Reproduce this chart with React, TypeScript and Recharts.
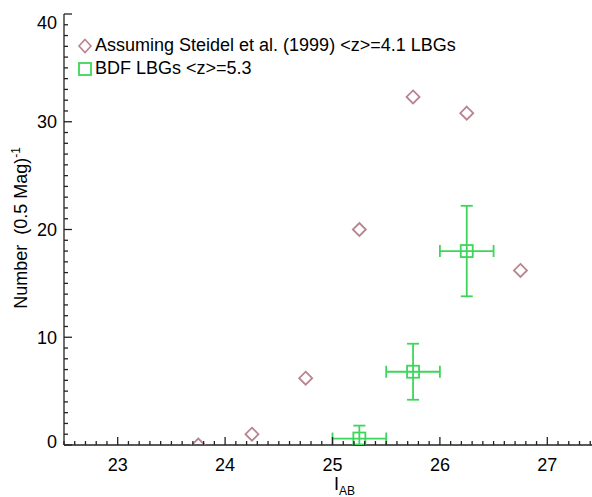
import React from "react";
import { ScatterChart, Scatter, XAxis, YAxis, ErrorBar } from "recharts";

// ─── Data ─────────────────────────────────────────────────────────────────────

const steidelMag = [23.75, 24.25, 24.75, 25.25, 25.75, 26.25, 26.75];
const steidelNum = [0, 1.0, 6.2, 20.0, 32.3, 30.8, 16.2];

const bdfMag = [25.25, 25.75, 26.25];
const bdfNum = [0.6, 6.8, 18.0];
const bdfErrLo = [0.6, 2.6, 4.2]; // lowest bar runs into the axis
const bdfErrHi = [1.2, 2.6, 4.2];
const bdfErrMag = [0.25, 0.25, 0.25];

const xMajor = [23, 24, 25, 26, 27];
const yMajor = [0, 10, 20, 30, 40];

const DIAMOND = "#b8848f";
const GREEN = "#3dd65a";
const FONT = "'Liberation Sans', Arial, Helvetica, sans-serif";

const steidelData = steidelMag.map((x, i) => ({ x, y: steidelNum[i] }));
const bdfData = bdfMag.map((x, i) => ({
    x,
    y: bdfNum[i],
    ex: bdfErrMag[i],
    ey: [bdfErrLo[i], bdfErrHi[i]],
}));

// minor tick positions (axis furniture, not data)
const xTicks: number[] = [];
for (let i = 225; i <= 275; i++) xTicks.push(i / 10);
const yTicks: number[] = [];
for (let i = 0; i <= 40; i++) yTicks.push(i);

const isMajor = (v: number, majors: number[]) =>
    majors.some((m) => Math.abs(m - v) < 1e-6);

// ─── Ticks ────────────────────────────────────────────────────────────────────

const BottomTick = (p: any) => {
    const v = p.payload.value;
    const major = isMajor(v, xMajor);
    return (
        <g>
            <line x1={p.x} x2={p.x} y1={p.y} y2={p.y - (major ? 8 : 4)} stroke="#222" strokeWidth={1.3} />
            {major && (
                <text x={p.x} y={p.y + 26} textAnchor="middle" fontSize={18} fontFamily={FONT} fill="#000">
                    {v}
                </text>
            )}
        </g>
    );
};

const TopTick = (p: any) => {
    const major = isMajor(p.payload.value, xMajor);
    return (
        <line x1={p.x} x2={p.x} y1={p.y} y2={p.y + (major ? 8 : 4)} stroke="#222" strokeWidth={1.3} />
    );
};

const LeftTick = (p: any) => {
    const v = p.payload.value;
    const major = isMajor(v, yMajor);
    // IDL nudges the end labels inside the frame
    const nudge = v === 40 ? 8 : v === 0 ? -4 : 0;
    return (
        <g>
            <line x1={p.x} x2={p.x + (major ? 8 : 4)} y1={p.y} y2={p.y} stroke="#222" strokeWidth={1.3} />
            {major && (
                <text x={p.x - 7} y={p.y + 6.5 + nudge} textAnchor="end" fontSize={18} fontFamily={FONT} fill="#000">
                    {v}
                </text>
            )}
        </g>
    );
};

// ─── Marks ────────────────────────────────────────────────────────────────────

const Diamond = ({ cx, cy }: any) => (
    <polygon
        points={`${cx},${cy - 6.5} ${cx + 6.5},${cy} ${cx},${cy + 6.5} ${cx - 6.5},${cy}`}
        fill="none"
        stroke={DIAMOND}
        strokeWidth={1.8}
    />
);

const Square = ({ cx, cy }: any) => (
    <rect x={cx - 6} y={cy - 6} width={12} height={12} fill="none" stroke={GREEN} strokeWidth={1.8} />
);

// ─── App ──────────────────────────────────────────────────────────────────────

export default function App() {
    return (
        <div
            style={{
                position: "fixed",
                left: 0,
                top: 0,
                width: 592,
                height: 497,
                overflow: "hidden",
                background: "#fff",
                fontFamily: FONT,
            }}
        >
            <ScatterChart width={608} height={497} margin={{ top: 14, right: 7, left: 24, bottom: 22 }}>
                <XAxis
                    xAxisId="b"
                    type="number"
                    dataKey="x"
                    domain={[22.5, 27.5]}
                    ticks={xTicks}
                    interval={0}
                    tickSize={0}
                    tickMargin={0}
                    tick={<BottomTick />}
                    height={30}
                    axisLine={{ stroke: "#222", strokeWidth: 1.3 }}
                    allowDataOverflow
                />
                <XAxis
                    xAxisId="t"
                    orientation="top"
                    type="number"
                    dataKey="x"
                    domain={[22.5, 27.5]}
                    ticks={xTicks}
                    interval={0}
                    tickSize={0}
                    tickMargin={0}
                    tick={<TopTick />}
                    height={0}
                    axisLine={{ stroke: "#222", strokeWidth: 1.3 }}
                    allowDataOverflow
                />
                <YAxis
                    type="number"
                    dataKey="y"
                    domain={[0, 40]}
                    ticks={yTicks}
                    interval={0}
                    tickSize={0}
                    tickMargin={0}
                    tick={<LeftTick />}
                    width={40}
                    axisLine={{ stroke: "#222", strokeWidth: 1.3 }}
                    allowDataOverflow
                />
                <Scatter xAxisId="b" data={steidelData} shape={<Diamond />} isAnimationActive={false} />
                <Scatter xAxisId="b" data={bdfData} shape={<Square />} isAnimationActive={false}>
                    <ErrorBar dataKey="ey" direction="y" width={6} stroke={GREEN} strokeWidth={1.8} />
                    <ErrorBar dataKey="ex" direction="x" width={6} stroke={GREEN} strokeWidth={1.8} />
                </Scatter>
            </ScatterChart>

            {/* legend */}
            <div style={{ position: "absolute", left: 77, top: 34, fontSize: 18, lineHeight: "23px", color: "#000" }}>
                <div style={{ display: "flex", alignItems: "center" }}>
                    <svg width={17} height={16} style={{ marginRight: 1 }}>
                        <polygon points="8,1.5 14,8 8,14.5 2,8" fill="none" stroke={DIAMOND} strokeWidth={1.6} />
                    </svg>
                    <span>Assuming Steidel et al. (1999) &lt;z&gt;=4.1 LBGs</span>
                </div>
                <div style={{ display: "flex", alignItems: "center" }}>
                    <svg width={17} height={16} style={{ marginRight: 1 }}>
                        <rect x={2} y={2} width={12} height={12} fill="none" stroke={GREEN} strokeWidth={1.8} />
                    </svg>
                    <span>BDF LBGs &lt;z&gt;=5.3</span>
                </div>
            </div>

            {/* y label */}
            <div
                style={{
                    position: "absolute",
                    left: 20,
                    top: 228,
                    transform: "translate(-50%, -50%) rotate(-90deg)",
                    whiteSpace: "pre",
                    fontSize: 18,
                }}
            >
                Number  (0.5 Mag)<sup style={{ fontSize: 12 }}>-1</sup>
            </div>

            {/* x label */}
            <div style={{ position: "absolute", left: 334, top: 474, fontSize: 18, lineHeight: "20px", whiteSpace: "pre" }}>
                I<sub style={{ fontSize: 12 }}>AB</sub>
            </div>
        </div>
    );
}
